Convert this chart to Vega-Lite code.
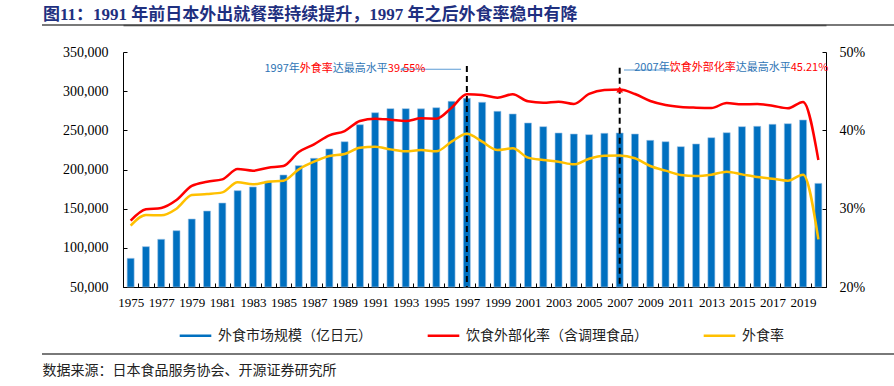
{
  "$schema": "https://vega.github.io/schema/vega-lite/v6.json",
  "width": 703,
  "height": 235,
  "autosize": "none",
  "padding": {"left": 123, "top": 52, "right": 68, "bottom": 99},
  "background": "white",
  "config": {"view": {"stroke": null}, "font": "Noto Sans CJK SC", "axis": {"grid": false}},
  "title": {
    "text": "图11：1991 年前日本外出就餐率持续提升，1997 年之后外食率稳中有降",
    "anchor": "start",
    "frame": "group",
    "dx": -80,
    "offset": -17,
    "baseline": "bottom",
    "font": "Liberation Serif, Noto Sans CJK SC",
    "fontSize": 17,
    "fontWeight": "bold",
    "color": "#1f3080"
  },
  "datasets": {
    "main": [
      {"year": 1975, "market": 86600, "ext": 28.47, "eat": 27.83},
      {"year": 1976, "market": 101500, "ext": 29.92, "eat": 29.19},
      {"year": 1977, "market": 110900, "ext": 30.09, "eat": 29.15},
      {"year": 1978, "market": 121900, "ext": 31.1, "eat": 30.0},
      {"year": 1979, "market": 136800, "ext": 32.9, "eat": 31.74},
      {"year": 1980, "market": 147000, "ext": 33.44, "eat": 31.87},
      {"year": 1981, "market": 157200, "ext": 33.74, "eat": 32.08},
      {"year": 1982, "market": 173000, "ext": 35.06, "eat": 33.36},
      {"year": 1983, "market": 177700, "ext": 34.85, "eat": 33.11},
      {"year": 1984, "market": 185300, "ext": 35.23, "eat": 33.44},
      {"year": 1985, "market": 193000, "ext": 35.45, "eat": 33.57},
      {"year": 1986, "market": 204900, "ext": 37.23, "eat": 35.02},
      {"year": 1987, "market": 214300, "ext": 38.21, "eat": 36.0},
      {"year": 1988, "market": 226200, "ext": 39.36, "eat": 36.72},
      {"year": 1989, "market": 235500, "ext": 39.91, "eat": 36.98},
      {"year": 1990, "market": 257200, "ext": 41.19, "eat": 37.78},
      {"year": 1991, "market": 272500, "ext": 41.49, "eat": 37.91},
      {"year": 1992, "market": 277700, "ext": 41.36, "eat": 37.57},
      {"year": 1993, "market": 277700, "ext": 41.19, "eat": 37.32},
      {"year": 1994, "market": 277400, "ext": 41.53, "eat": 37.49},
      {"year": 1995, "market": 278900, "ext": 41.49, "eat": 37.32},
      {"year": 1996, "market": 287000, "ext": 42.89, "eat": 38.55},
      {"year": 1997, "market": 290900, "ext": 44.6, "eat": 39.55},
      {"year": 1998, "market": 285800, "ext": 44.51, "eat": 38.55},
      {"year": 1999, "market": 274300, "ext": 44.17, "eat": 37.49},
      {"year": 2000, "market": 270900, "ext": 44.6, "eat": 37.7},
      {"year": 2001, "market": 259400, "ext": 43.7, "eat": 36.51},
      {"year": 2002, "market": 254700, "ext": 43.53, "eat": 36.21},
      {"year": 2003, "market": 246600, "ext": 43.66, "eat": 36.0},
      {"year": 2004, "market": 245300, "ext": 43.36, "eat": 35.66},
      {"year": 2005, "market": 244500, "ext": 44.64, "eat": 36.38},
      {"year": 2006, "market": 246200, "ext": 45.15, "eat": 36.76},
      {"year": 2007, "market": 246600, "ext": 45.21, "eat": 36.8},
      {"year": 2008, "market": 245300, "ext": 44.64, "eat": 36.43},
      {"year": 2009, "market": 237200, "ext": 43.74, "eat": 35.45},
      {"year": 2010, "market": 235500, "ext": 43.23, "eat": 34.85},
      {"year": 2011, "market": 229200, "ext": 42.98, "eat": 34.3},
      {"year": 2012, "market": 232600, "ext": 42.89, "eat": 34.17},
      {"year": 2013, "market": 240600, "ext": 42.85, "eat": 34.34},
      {"year": 2014, "market": 247000, "ext": 43.49, "eat": 34.72},
      {"year": 2015, "market": 254700, "ext": 43.32, "eat": 34.38},
      {"year": 2016, "market": 255100, "ext": 43.36, "eat": 34.04},
      {"year": 2017, "market": 257700, "ext": 43.14, "eat": 33.83},
      {"year": 2018, "market": 258500, "ext": 42.81, "eat": 33.57},
      {"year": 2019, "market": 263200, "ext": 43.62, "eat": 34.34},
      {"year": 2020, "market": 182300, "ext": 36.21, "eat": 26.08}
    ]
  },
  "layer": [
    {
      "data": {"name": "main"},
      "mark": {"type": "bar", "size": 7, "stroke": "#9dc3e6", "strokeWidth": 0.6},
      "encoding": {
        "x": {
          "field": "year",
          "type": "ordinal",
          "scale": {"paddingInner": 0, "paddingOuter": 0},
          "axis": {
            "orient": "bottom",
            "title": "数据来源：日本食品服务协会、开源证券研究所",
            "titleFont": "Noto Sans CJK SC",
            "titleFontSize": 14,
            "titleFontWeight": "normal",
            "titleColor": "#222222",
            "titleX": -81,
            "titleY": 83,
            "titleAlign": "left",
            "titleAnchor": "start",
            "titleBaseline": "middle",
            "labelExpr": "datum.value % 2 == 1 ? datum.label : ''",
            "labelAngle": 0,
            "labelFont": "Liberation Serif",
            "labelFontSize": 13,
            "labelColor": "#000000",
            "labelPadding": 13,
            "labelOverlap": false,
            "tickBand": "extent",
            "tickSize": -4,
            "tickColor": "#000000",
            "domainColor": "#000000"
          }
        },
        "y": {
          "field": "market",
          "type": "quantitative",
          "scale": {"domain": [50000, 350000], "nice": false, "zero": false},
          "axis": {
            "title": null,
            "values": [50000, 100000, 150000, 200000, 250000, 300000, 350000],
            "format": ",.0f",
            "labelFont": "Liberation Serif",
            "labelFontSize": 14,
            "labelColor": "#000000",
            "tickSize": -4,
            "labelPadding": 19,
            "tickColor": "#000000",
            "domainColor": "#000000"
          }
        },
        "y2": {"datum": 50000},
        "color": {
          "datum": "外食市场规模（亿日元）",
          "scale": {
            "domain": ["外食市场规模（亿日元）", "饮食外部化率（含调理食品）", "外食率"],
            "range": ["#0070c0", "#ff0000", "#ffc000"]
          },
          "legend": {
            "orient": "none",
            "legendX": 55,
            "legendY": 266,
            "direction": "horizontal",
            "columns": 3,
            "title": null,
            "symbolType": "stroke",
            "symbolSize": 1000,
            "symbolStrokeWidth": 2.5,
            "labelFont": "Noto Sans CJK SC",
            "labelFontSize": 14,
            "labelColor": "#222222",
            "labelOffset": 5,
            "labelLimit": 400,
            "columnPadding": 50,
            "padding": 0,
            "encode": {
              "symbols": {
                "update": {
                  "strokeWidth": {"signal": "datum.label == '外食市场规模（亿日元）' ? 7 : 2.5"},
                  "stroke": {"scale": "color", "field": "value"}
                }
              }
            }
          }
        }
      }
    },
    {
      "layer": [
        {
          "data": {"values": [{"year": 1997, "top": 48.2}, {"year": 2007, "top": 48.0}]},
          "mark": {"type": "rule", "strokeDash": [6, 4], "strokeWidth": 2, "color": "#000000"},
          "encoding": {
            "x": {
              "field": "year",
              "type": "ordinal",
              "axis": {
                "orient": "top",
                "offset": 27,
                "title": null,
                "labels": false,
                "ticks": false,
                "domainColor": "#404040",
                "domainWidth": 1.5
              }
            },
            "y": {
              "field": "top",
              "type": "quantitative",
              "scale": {"domain": [20, 50], "nice": false, "zero": false},
              "axis": {
                "orient": "right",
                "title": null,
                "values": [20, 25, 30, 35, 40, 45, 50],
                "labelExpr": "datum.value + '%'",
                "labelFont": "Liberation Serif",
                "labelFontSize": 14,
                "labelColor": "#000000",
                "tickSize": -4,
                "labelPadding": 17,
                "tickColor": "#000000",
                "domainColor": "#000000"
              }
            },
            "y2": {"datum": 20}
          }
        },
        {
          "data": {"name": "main"},
          "mark": {"type": "line", "interpolate": "monotone", "strokeWidth": 2.5},
          "encoding": {
            "x": {"field": "year", "type": "ordinal"},
            "y": {"field": "eat", "type": "quantitative"},
            "color": {"datum": "外食率"}
          }
        },
        {
          "data": {"name": "main"},
          "mark": {"type": "line", "interpolate": "monotone", "strokeWidth": 2.5},
          "encoding": {
            "x": {"field": "year", "type": "ordinal"},
            "y": {"field": "ext", "type": "quantitative"},
            "color": {"datum": "饮食外部化率（含调理食品）"}
          }
        },
        {
          "data": {"values": [{"year": 2007, "peak": 45.21}]},
          "mark": {"type": "point", "shape": "triangle-up", "filled": true, "color": "#ff0000", "size": 45, "opacity": 1},
          "encoding": {
            "x": {"field": "year", "type": "ordinal"},
            "y": {"field": "peak", "type": "quantitative"}
          }
        },
        {
          "data": {"values": [{"a": 1993, "b": 1997, "pos": 47.8}]},
          "mark": {"type": "rule", "color": "#5b9bd5", "strokeWidth": 1.2},
          "encoding": {
            "x": {"field": "a", "type": "ordinal", "bandPosition": 0.26},
            "x2": {"field": "b", "bandPosition": 0.12},
            "y": {"field": "pos", "type": "quantitative"}
          }
        },
        {
          "data": {"values": [{"a": 1993, "pos": 47.8}]},
          "mark": {"type": "point", "shape": "triangle-left", "filled": true, "color": "#5b9bd5", "size": 20, "opacity": 1},
          "encoding": {
            "x": {"field": "a", "type": "ordinal", "bandPosition": 0.26},
            "y": {"field": "pos", "type": "quantitative"}
          }
        },
        {
          "data": {"values": [{"a": 2007, "b": 2011, "pos": 47.7}]},
          "mark": {"type": "rule", "color": "#5b9bd5", "strokeWidth": 1.2},
          "encoding": {
            "x": {"field": "a", "type": "ordinal", "bandPosition": 0.78},
            "x2": {"field": "b", "bandPosition": 0.0},
            "y": {"field": "pos", "type": "quantitative"}
          }
        },
        {
          "data": {"values": [{"year": 1997, "pos": 47.85, "t": "1997年"}]},
          "mark": {"type": "text", "align": "right", "baseline": "middle", "dx": -167, "fontSize": 11, "font": "Noto Sans CJK SC", "color": "#2f75b5"},
          "encoding": {"x": {"field": "year", "type": "ordinal"}, "y": {"field": "pos", "type": "quantitative"}, "text": {"field": "t"}}
        },
        {
          "data": {"values": [{"year": 1997, "pos": 47.85, "t": "外食率"}]},
          "mark": {"type": "text", "align": "left", "baseline": "middle", "dx": -167, "fontSize": 11, "font": "Noto Sans CJK SC", "color": "#ff0000"},
          "encoding": {"x": {"field": "year", "type": "ordinal"}, "y": {"field": "pos", "type": "quantitative"}, "text": {"field": "t"}}
        },
        {
          "data": {"values": [{"year": 1997, "pos": 47.85, "t": "达最高水平"}]},
          "mark": {"type": "text", "align": "left", "baseline": "middle", "dx": -134, "fontSize": 11, "font": "Noto Sans CJK SC", "color": "#2f75b5"},
          "encoding": {"x": {"field": "year", "type": "ordinal"}, "y": {"field": "pos", "type": "quantitative"}, "text": {"field": "t"}}
        },
        {
          "data": {"values": [{"year": 1997, "pos": 47.85, "t": "39.55%"}]},
          "mark": {"type": "text", "align": "left", "baseline": "middle", "dx": -79, "fontSize": 11, "font": "Noto Sans CJK SC", "color": "#ff0000"},
          "encoding": {"x": {"field": "year", "type": "ordinal"}, "y": {"field": "pos", "type": "quantitative"}, "text": {"field": "t"}}
        },
        {
          "data": {"values": [{"year": 2007, "pos": 47.9, "t": "2007年"}]},
          "mark": {"type": "text", "align": "right", "baseline": "middle", "dx": 50, "fontSize": 11, "font": "Noto Sans CJK SC", "color": "#2f75b5"},
          "encoding": {"x": {"field": "year", "type": "ordinal"}, "y": {"field": "pos", "type": "quantitative"}, "text": {"field": "t"}}
        },
        {
          "data": {"values": [{"year": 2007, "pos": 47.9, "t": "饮食外部化率"}]},
          "mark": {"type": "text", "align": "left", "baseline": "middle", "dx": 50, "fontSize": 11, "font": "Noto Sans CJK SC", "color": "#ff0000"},
          "encoding": {"x": {"field": "year", "type": "ordinal"}, "y": {"field": "pos", "type": "quantitative"}, "text": {"field": "t"}}
        },
        {
          "data": {"values": [{"year": 2007, "pos": 47.9, "t": "达最高水平"}]},
          "mark": {"type": "text", "align": "left", "baseline": "middle", "dx": 116, "fontSize": 11, "font": "Noto Sans CJK SC", "color": "#2f75b5"},
          "encoding": {"x": {"field": "year", "type": "ordinal"}, "y": {"field": "pos", "type": "quantitative"}, "text": {"field": "t"}}
        },
        {
          "data": {"values": [{"year": 2007, "pos": 47.9, "t": "45.21%"}]},
          "mark": {"type": "text", "align": "left", "baseline": "middle", "dx": 171, "fontSize": 11, "font": "Noto Sans CJK SC", "color": "#ff0000"},
          "encoding": {"x": {"field": "year", "type": "ordinal"}, "y": {"field": "pos", "type": "quantitative"}, "text": {"field": "t"}}
        },
        {
          "data": {"values": [{"id": "top", "line": 53.45}, {"id": "bottom", "line": 11.45}]},
          "mark": {"type": "rule", "color": "#4d4d4d", "strokeWidth": 1.5},
          "encoding": {"x": {"value": -81}, "x2": {"value": 771}, "y": {"field": "line", "type": "quantitative"}}
        }
      ]
    }
  ],
  "resolve": {"scale": {"y": "independent"}, "axis": {"x": "independent"}}
}
